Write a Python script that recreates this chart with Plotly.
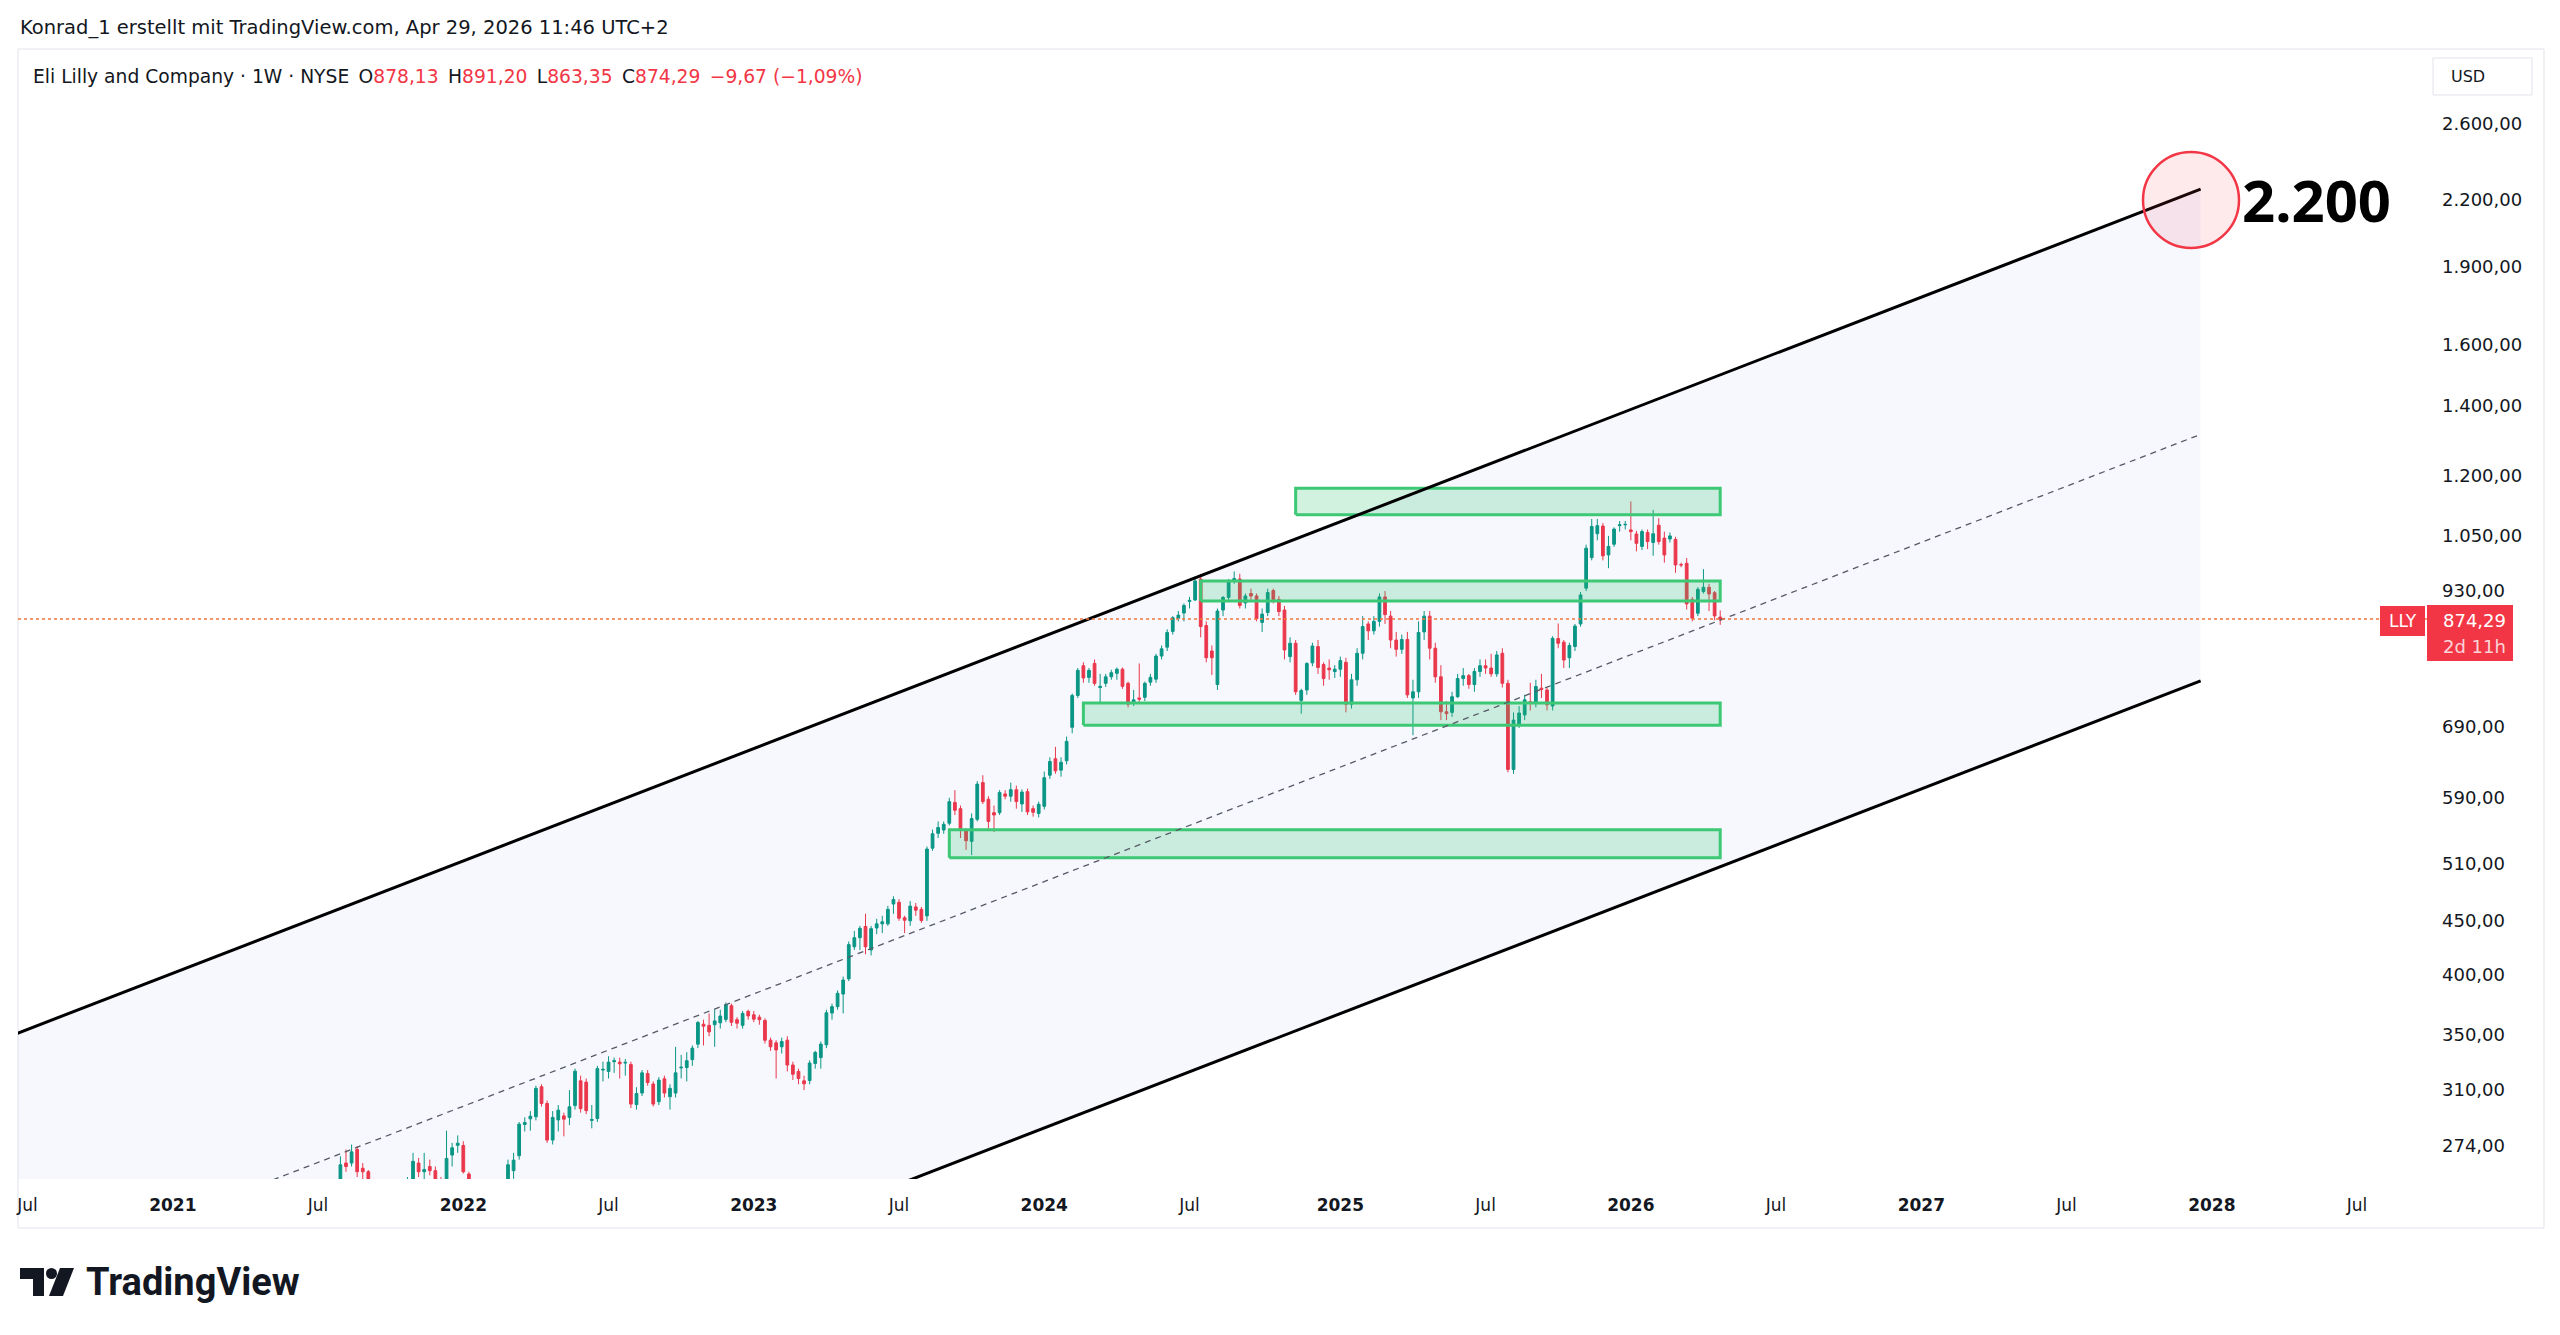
import plotly.graph_objects as go
import pandas as pd
import math

W, H = 2560, 1335
PL, PR, PT, PB = 18, 2427, 49, 1179  # plot area in px

# ---------------- data (weekly candles, week starting Monday) ----------------
first_week = "2021-07-26"
opens = [240, 245, 264, 264, 272, 261, 259, 250, 237, 232, 234, 230, 236, 245, 252, 264, 259, 262, 259.6, 254,
         250, 268.7, 274.5, 274.4, 257.7, 250, 243, 238, 245, 246, 243, 250, 259.6, 268.3, 287.4, 291, 292.3, 312.3, 301, 277.7,
         290.3, 292.9, 291.9, 299.6, 316.4, 315.5, 290, 291.2, 324, 323, 330, 329.7, 329, 328, 300.3, 308, 321.5, 314.2, 302.2, 317.8,
         305.5, 308, 325.5, 325.8, 331.5, 343, 358.4, 357.5, 358, 359.5, 362.2, 373.3, 362, 357.5, 368.7, 365.9, 364, 361.4, 346, 344,
         341, 346, 327.6, 323, 316.4, 316.6, 328.7, 333, 342.5, 367.3, 372.5, 383, 396, 425, 433.6, 444.4, 422, 443, 447, 447,
         467, 468.8, 453, 450, 464, 461.5, 454.9, 528, 545.6, 549.6, 557.8, 584, 576, 549.6, 536, 562.6, 610, 588, 571, 571,
         595, 592, 600.6, 582, 598, 576, 570, 579, 620, 643, 627, 640, 689, 739, 789, 769, 793, 752, 759, 770,
         776, 783, 759, 727, 735, 736, 761, 766, 806, 822, 851, 876, 886, 909, 912, 955, 862, 815, 757, 892,
         917, 952, 955, 906, 925, 920, 868, 887, 931, 913, 892, 805, 829, 731, 748, 794, 823, 791, 785, 779,
         783, 795, 725, 765, 811, 865, 852, 870, 918, 880, 835, 818, 836, 735, 745, 850, 880, 820, 770, 713,
         712, 737, 767, 772, 757, 779, 789, 785, 775, 811, 759, 628, 693, 708, 729, 727.6, 751, 748, 722, 837.6,
         831, 803, 823, 865, 936, 1001, 1055, 1073, 1007, 1031, 1074, 1076, 1064, 1054.5, 1026, 1058, 1035, 1075, 1045, 1043,
         1042, 986, 988.6, 913, 885.7, 928.8, 937.8, 926.7, 878.13]
highs = [247, 268, 272, 275, 274, 264, 260, 255, 242, 238, 240, 240, 248, 256, 270, 267, 270, 266, 262, 256,
         283.5, 276, 280.6, 277, 259, 253, 247, 250, 252, 251, 250, 266, 270, 289, 292, 296, 313, 314, 303, 296,
         300, 295, 310, 325, 320, 318, 300, 327, 330, 334, 333, 333, 332, 330, 312, 324, 324, 316, 319, 320,
         314, 341, 335, 337, 342, 361, 362, 367, 370, 370, 376, 375, 364, 369, 370, 369, 366, 363, 348, 346,
         348, 349, 330, 325, 320, 331, 338, 345, 370, 375, 386, 398, 430, 440, 445, 457, 445, 452, 455, 465,
         475, 472, 455, 470, 468, 464, 530, 550, 560, 560, 590, 600, 580, 552, 570, 612, 620, 592, 580, 600,
         600, 610, 606, 601, 602, 580, 585, 625, 645, 660, 645, 675, 742, 785, 795, 785, 800, 775, 775, 782,
         786, 786, 762, 748, 793, 762, 775, 810, 825, 855, 880, 890, 905, 918, 960, 966, 870, 825, 895, 920,
         955, 971, 966, 925, 935, 925, 895, 935, 935, 920, 900, 840, 835, 750, 795, 830, 835, 795, 800, 790,
         805, 803, 775, 820, 880, 870, 880, 925, 930, 890, 850, 845, 850, 765, 870, 890, 890, 830, 790, 730,
         745, 775, 785, 775, 785, 800, 800, 810, 815, 820, 765, 712, 722, 740, 760, 765, 775, 752, 842, 866,
         835, 830, 865, 928, 1030, 1090, 1090, 1080, 1050, 1070, 1085, 1085, 1133, 1062, 1065, 1065, 1112, 1092, 1060, 1058,
         1048, 990, 1000, 918, 938, 976, 945, 930, 891.2]
lows = [236, 243, 259, 262, 256, 254, 245, 235, 230, 228, 225, 228, 234, 243, 250, 256, 252, 257, 249, 243,
        248, 262, 270, 258, 245, 240, 235, 231, 238, 240, 238, 246, 255, 266, 283, 283.5, 290, 299, 276, 275,
        283, 280, 287, 297, 295, 294, 285, 289, 316, 318, 322, 318, 320, 298, 297, 306, 313, 299, 300, 305,
        297, 305, 318, 316, 327, 340, 342, 349, 341, 355, 360, 357, 355, 355, 362, 360, 358, 343.5, 338, 318,
        336, 323, 317, 314, 310, 314, 325, 325, 340, 362, 370, 367, 394, 422, 422, 418, 417, 437, 438, 445,
        457, 450, 438, 445, 455, 448, 450, 525, 540, 545, 555, 568, 540, 526, 520, 560, 582, 550, 547, 568,
        588, 585, 576, 572, 568, 566, 565, 575, 615, 622, 618, 635, 680, 735, 760, 760, 755, 728, 753, 765,
        765, 750, 720, 722, 727, 730, 755, 760, 800, 815, 845, 870, 870, 895, 910, 840, 795, 773, 748, 880,
        912, 945, 895, 895, 910, 870, 850, 880, 905, 880, 800, 795, 740, 710, 740, 788, 775, 755, 765, 768,
        770, 712, 718, 755, 800, 835, 845, 860, 865, 820, 805, 810, 735, 677, 735, 835, 800, 760, 700, 700,
        705, 735, 755, 750, 745, 770, 775, 770, 770, 752, 624, 622, 688, 700, 715, 720, 735, 715, 715, 820,
        785, 785, 815, 860, 930, 995, 1040, 995, 978, 1025, 1060, 1065, 1040, 1015, 1018, 1020, 1005, 1030, 990, 1035,
        968, 980, 893, 870, 880, 925, 890, 872, 863.35]
closes = [245, 263, 262, 270.6, 259, 259, 250, 237, 232, 234, 230, 236, 245, 252, 265, 259, 260.3, 259.6, 254, 247,
          266.7, 273, 275.8, 259, 252, 243, 238, 245, 246, 243, 247, 263, 265.7, 287.6, 288.7, 292.7, 311.2, 301, 277.7, 291.9,
          296.6, 290.8, 298.8, 323.2, 297.6, 296.3, 290.6, 325, 324.5, 329.7, 330.7, 328.5, 329.5, 300.6, 307.7, 322, 315.2, 300.6, 316.9, 308,
          311.2, 322, 326, 330.7, 340, 359.7, 356.8, 352.4, 361, 364.9, 374.1, 359.9, 359.2, 367, 365, 362.4, 362, 346, 341, 338.7,
          345, 327.6, 321, 318, 314.3, 329, 336.8, 343, 367.5, 372.5, 383.6, 395, 427, 433.6, 442.6, 425, 442.3, 447, 449, 461.5,
          471.6, 452.6, 450.6, 464.8, 460.7, 450.3, 527, 545, 552.6, 556.5, 585, 574, 549, 536.7, 563.6, 608, 585, 560, 568, 597,
          592, 600.6, 585, 597.4, 572, 571.5, 581.6, 616.6, 639, 626, 638, 668, 739, 781, 768, 781, 759, 754, 770, 777,
          783, 754, 725, 732, 733, 759, 769, 806, 819, 849, 877, 882, 901, 911, 951, 860, 803, 803, 890, 917,
          952, 956, 901, 920, 920, 875, 884, 927, 913, 889, 817, 829, 745, 747, 793, 824, 786, 767, 782, 783,
          798, 725, 765, 811, 860, 852, 870, 918, 883, 835, 818, 836, 740, 745, 849, 880, 820, 770, 713, 710,
          737, 767, 772, 757, 779, 789, 785, 775, 808, 759, 628, 700, 711, 732, 727.6, 753.7, 749, 724, 838, 829,
          799, 825, 861, 922, 1022, 1072, 1074, 1005, 1026, 1066, 1076, 1077, 1060, 1033, 1060, 1037, 1055, 1037, 1007, 1050,
          985, 985, 904, 876, 933.6, 937.8, 924, 880.5, 874.29]

# channel drawing (anchor dates and prices)
channel_dates = ["2020-06-22", "2027-12-20"]
channel_upper = [351, 2253]
channel_middle = [204.5, 1313]
channel_lower = [118.9, 763]

# support / resistance zones
zone_start = ["2024-11-11", "2024-07-15", "2024-02-19", "2023-09-04"]
zone_end = "2026-04-27"
zone_low = [1100, 910, 692, 517]
zone_high = [1166, 951, 727, 550]

last_price = 874.29
target_label = "2.200"

price_ticks = [274, 310, 350, 400, 450, 510, 590, 690, 930, 1050, 1200, 1400, 1600, 1900, 2200, 2600]
time_tickvals = ["2020-07-06", "2021-01-04", "2021-07-05", "2022-01-03", "2022-07-04", "2023-01-02",
                 "2023-07-03", "2024-01-01", "2024-07-01", "2025-01-06", "2025-07-07", "2026-01-05",
                 "2026-07-06", "2027-01-04", "2027-07-05", "2028-01-03", "2028-07-03"]
time_ticktext = ["Jul", "<b>2021</b>", "Jul", "<b>2022</b>", "Jul", "<b>2023</b>", "Jul", "<b>2024</b>", "Jul",
                 "<b>2025</b>", "Jul", "<b>2026</b>", "Jul", "<b>2027</b>", "Jul", "<b>2028</b>", "Jul"]

x_range = ["2020-06-24", "2028-09-28 16:00"]
y_range_prices = (254.9, 3067.0)


# ---------------- helpers ----------------
def fx(px):
    return (px - PL) / (PR - PL)


def fy(py):
    return (PB - py) / (PB - PT)


def fmt_de(v):
    s = f"{v:,.2f}"
    return s.replace(",", "X").replace(".", ",").replace("X", ".")


dates = pd.date_range(first_week, periods=len(closes), freq="7D")
assert len(opens) == len(highs) == len(lows) == len(closes)

GREEN = "#089981"
RED = "#F23645"
TXT = "#131722"
AXFONT = "DejaVu Sans"
HDFONT = "DejaVu Sans"

fig = go.Figure()

# channel background
fig.add_trace(go.Scatter(
    x=[channel_dates[0], channel_dates[1], channel_dates[1], channel_dates[0], channel_dates[0]],
    y=[channel_upper[0], channel_upper[1], channel_lower[1], channel_lower[0], channel_upper[0]],
    fill="toself", fillcolor="rgba(70,95,240,0.045)", line=dict(width=0), mode="lines",
    hoverinfo="skip", showlegend=False))

# candles
fig.add_trace(go.Candlestick(
    x=dates, open=opens, high=highs, low=lows, close=closes,
    increasing=dict(line=dict(color=GREEN, width=1), fillcolor=GREEN),
    decreasing=dict(line=dict(color=RED, width=1), fillcolor=RED),
    whiskerwidth=0, showlegend=False, hoverinfo="skip"))

# zones
for x0, lo, hi in zip(zone_start, zone_low, zone_high):
    fig.add_trace(go.Scatter(
        x=[x0, zone_end, zone_end, x0, x0], y=[lo, lo, hi, hi, lo],
        fill="toself", fillcolor="rgba(46,196,110,0.22)",
        line=dict(color="#3cc874", width=3), mode="lines", hoverinfo="skip", showlegend=False))

# middle dashed line
fig.add_trace(go.Scatter(x=channel_dates, y=channel_middle, mode="lines",
                         line=dict(color="#555a66", width=1.3, dash="6px,5px"),
                         hoverinfo="skip", showlegend=False))
# upper / lower lines
for yy in (channel_upper, channel_lower):
    fig.add_trace(go.Scatter(x=channel_dates, y=yy, mode="lines",
                             line=dict(color="#000000", width=3),
                             hoverinfo="skip", showlegend=False))

# last price dotted line
fig.add_trace(go.Scatter(x=x_range, y=[last_price, last_price], mode="lines",
                         line=dict(color="#F5743F", width=1.5, dash="dot"),
                         hoverinfo="skip", showlegend=False))

shapes = []
annotations = []

# panel border
shapes.append(dict(type="rect", xref="paper", yref="paper", x0=fx(18), x1=fx(2544), y0=fy(1228), y1=fy(49),
                   line=dict(color="#e0e3eb", width=1), fillcolor="rgba(0,0,0,0)", layer="below"))

# target circle
cx, cy, r = 2191, 200, 48
shapes.append(dict(type="circle", xref="paper", yref="paper", x0=fx(cx - r), x1=fx(cx + r),
                   y0=fy(cy + r), y1=fy(cy - r), line=dict(color="#F23645", width=2.5),
                   fillcolor="rgba(242,54,69,0.11)"))
annotations.append(dict(text=f"<b>{target_label}</b>", x=fx(2240), y=fy(200), xref="paper", yref="paper",
                        xanchor="left", yanchor="middle", showarrow=False,
                        font=dict(family="Noto Sans", size=58, color="#000000")))

# USD button
shapes.append(dict(type="rect", xref="paper", yref="paper", x0=fx(2433), x1=fx(2532), y0=fy(95), y1=fy(58),
                   line=dict(color="#e0e3eb", width=1), fillcolor="#ffffff"))
annotations.append(dict(text="USD", x=fx(2449), y=fy(77), xref="paper", yref="paper", xanchor="left",
                        yanchor="middle", showarrow=False, font=dict(family=AXFONT, size=16, color=TXT)))

# LLY tag + price box
shapes.append(dict(type="rect", xref="paper", yref="paper", x0=fx(2380), x1=fx(2425), y0=fy(636), y1=fy(606),
                   line=dict(width=0), fillcolor=RED))
shapes.append(dict(type="rect", xref="paper", yref="paper", x0=fx(2427), x1=fx(2513), y0=fy(661), y1=fy(605),
                   line=dict(width=0), fillcolor=RED))
annotations.append(dict(text="LLY", x=fx(2403), y=fy(621), xref="paper", yref="paper", xanchor="center",
                        yanchor="middle", showarrow=False, font=dict(family=AXFONT, size=17, color="#ffffff")))
annotations.append(dict(text=fmt_de(last_price), x=fx(2441), y=fy(620), xref="paper", yref="paper",
                        xanchor="left", yanchor="middle", showarrow=False,
                        font=dict(family=AXFONT, size=18, color="#ffffff")))
annotations.append(dict(text="2d 11h", x=fx(2441), y=fy(646), xref="paper", yref="paper",
                        xanchor="left", yanchor="middle", showarrow=False,
                        font=dict(family=AXFONT, size=18, color="rgba(255,255,255,0.8)")))

# header texts
annotations.append(dict(text="Konrad_1 erstellt mit TradingView.com, Apr 29, 2026 11:46 UTC+2",
                        x=fx(18), y=fy(27), xref="paper", yref="paper", xanchor="left", yanchor="middle",
                        showarrow=False, font=dict(family=HDFONT, size=19.5, color=TXT)))
hdr = ("Eli Lilly and Company · 1W · NYSE\u2002"
       f"O<span style='color:{RED}'>878,13</span>\u2002"
       f"H<span style='color:{RED}'>891,20</span>\u2002"
       f"L<span style='color:{RED}'>863,35</span>\u2002"
       f"C<span style='color:{RED}'>874,29</span>\u2002"
       f"<span style='color:{RED}'>−9,67 (−1,09%)</span>")
annotations.append(dict(text=hdr, x=fx(31), y=fy(76), xref="paper", yref="paper", xanchor="left",
                        yanchor="middle", showarrow=False, font=dict(family=HDFONT, size=18.7, color=TXT)))

# TradingView logo
shapes.append(dict(type="path", xref="paper", yref="paper", fillcolor="#131722", line=dict(width=0),
                   path=f"M{fx(20)},{fy(1268)} L{fx(44)},{fy(1268)} L{fx(44)},{fy(1296)} L{fx(33)},{fy(1296)} "
                        f"L{fx(33)},{fy(1279)} L{fx(20)},{fy(1279)} Z"))
shapes.append(dict(type="circle", xref="paper", yref="paper", fillcolor="#131722", line=dict(width=0),
                   x0=fx(46), x1=fx(57), y0=fy(1279), y1=fy(1268)))
shapes.append(dict(type="path", xref="paper", yref="paper", fillcolor="#131722", line=dict(width=0),
                   path=f"M{fx(60)},{fy(1268)} L{fx(74)},{fy(1268)} L{fx(63)},{fy(1296)} L{fx(49)},{fy(1296)} Z"))
annotations.append(dict(text="<b>TradingView</b>", x=fx(84), y=fy(1282), xref="paper", yref="paper",
                        xanchor="left", yanchor="middle", showarrow=False,
                        font=dict(family="Roboto", size=38, color="#131722")))

fig.update_layout(
    width=W, height=H,
    margin=dict(l=PL, r=W - PR, t=PT, b=H - PB, pad=0),
    paper_bgcolor="#ffffff", plot_bgcolor="#ffffff",
    showlegend=False, hovermode=False,
    shapes=shapes, annotations=annotations,
    xaxis=dict(type="date", range=x_range, showgrid=False, zeroline=False, showline=False,
               tickmode="array", tickvals=time_tickvals, ticktext=time_ticktext, ticks="",
               tickfont=dict(family=AXFONT, size=17, color=TXT), ticklabelstandoff=14,
               rangeslider=dict(visible=False), fixedrange=True),
    yaxis=dict(type="log", side="right",
               range=[math.log10(y_range_prices[0]), math.log10(y_range_prices[1])],
               showgrid=False, zeroline=False, showline=False,
               tickmode="array", tickvals=price_ticks, ticktext=[fmt_de(v) for v in price_ticks], ticks="",
               tickfont=dict(family=AXFONT, size=18, color=TXT), ticklabelstandoff=14, fixedrange=True),
)

fig.write_html("out.html", config={"displayModeBar": False})
